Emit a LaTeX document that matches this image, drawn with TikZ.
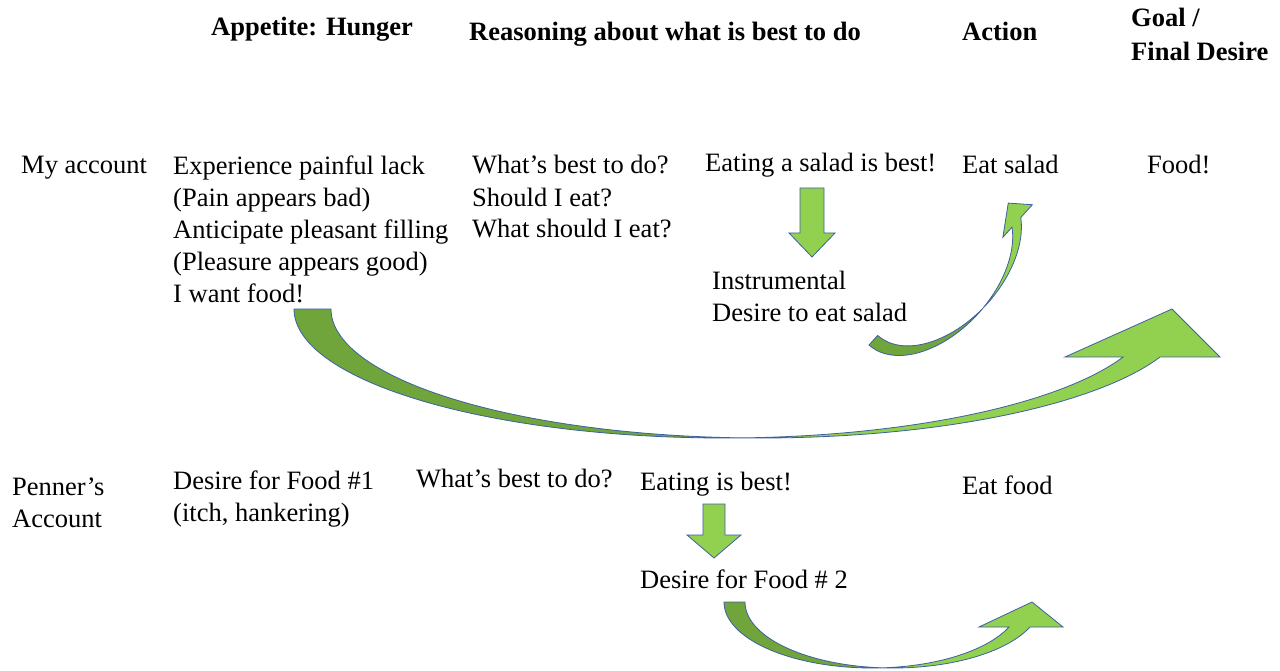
\documentclass[tikz,border=0pt]{standalone}
\usepackage{fontspec}
\setmainfont{Liberation Serif}
\definecolor{leafback}{RGB}{112,165,60}
\definecolor{leaffront}{RGB}{146,208,80}
\definecolor{rimblue}{RGB}{62,96,160}

% Twisted curved arrow, drawn in a local frame whose v axis points "down".
% #1 rx, #2 ry, #3 band width, #4 v of head base, #5 left head corner u,
% #6 right head corner u, #7 tip u, #8 tip v
\newcommand{\ribbonarrow}[8]{%
  \pgfmathsetmacro{\ribTc}{acos(#3/(2*#1))}%
  \pgfmathsetmacro{\ribTcB}{180-\ribTc}%
  \pgfmathsetmacro{\ribTh}{asin(#4/#2)}%
  \filldraw[ribbonback]
    plot[domain=180:\ribTc,samples=90] ({#1+#1*cos(\x)},{#2*sin(\x)})
    -- plot[domain=\ribTcB:180,samples=90] ({#1+#3+#1*cos(\x)},{#2*sin(\x)})
    -- cycle;
  \filldraw[ribbonfront]
    plot[domain=\ribTcB:\ribTh,samples=90] ({#1+#3+#1*cos(\x)},{#2*sin(\x)})
    -- (#6,#4) -- (#7,#8) -- (#5,#4)
    -- plot[domain=\ribTh:\ribTc,samples=90] ({#1+#1*cos(\x)},{#2*sin(\x)})
    -- cycle;
}

% multi-line texts are placed by the baseline of their last line
\tikzset{
  ribbonback/.style={fill=leafback, draw=rimblue, line width=0.8pt},
  ribbonfront/.style={fill=leaffront, draw=rimblue, line width=0.8pt},
  downarrow/.style={fill=leaffront, draw=rimblue, line width=0.8pt},
  txt/.style={anchor=base west, inner sep=0pt, align=left,
    font=\fontsize{26.5}{32}\selectfont},
  head/.style={txt, font=\fontsize{26.5}{34}\selectfont\bfseries},
}

\begin{document}
\begin{tikzpicture}[x=1pt,y=-1pt]
\fill[white] (0,0) rectangle (1280,671);
\path[use as bounding box] (0,0) rectangle (1280,671);

% column headings
\node[head] (hApp) at (211,36) {Appetite: Hunger};
\node[head] (hReas) at (469,41) {Reasoning about what is best to do};
\node[head] (hAct) at (962,41) {Action};
\node[head] (hGoal) at (1131,61) {Goal /\\Final Desire};

% first account
\node[txt] (myAcc) at (21,174) {My account};
\node[txt] (hunger) at (173,302) {Experience painful lack\\(Pain appears bad)\\Anticipate pleasant filling\\(Pleasure appears good)\\I want food!};
\node[txt] (ask) at (472,238) {What’s best to do?\\Should I eat?\\What should I eat?};
\node[txt] (salad) at (705,172) {Eating a salad is best!};
\node[txt] (instr) at (712,321) {Instrumental\\Desire to eat salad};
\node[txt] (eatSalad) at (962,174) {Eat salad};
\node[txt] (food) at (1147,174) {Food!};

% second account
\node[txt] (penner) at (12,527) {Penner’s\\Account};
\node[txt] (desire1) at (173,521) {Desire for Food \#1\\(itch, hankering)};
\node[txt] (ask2) at (416,487) {What’s best to do?};
\node[txt] (eatBest) at (640,490) {Eating is best!};
\node[txt] (desire2) at (640,588) {Desire for Food \# 2};
\node[txt] (eatFood) at (962,494) {Eat food};

% straight block arrows
\filldraw[downarrow] (800,188) -- (824,188) -- (824,233) -- (835,233)
  -- (812,257) -- (789,233) -- (800,233) -- cycle;
\filldraw[downarrow] (703,504) -- (725,504) -- (725,535) -- (741,535)
  -- (714,558) -- (687,535) -- (703,535) -- cycle;

% long arrow: hunger to final desire
\begin{scope}[shift={(294,309)}, x={(1pt,0pt)}, y={(0pt,-1pt)}]
  \ribbonarrow{430}{129}{37}{48}{771}{926}{878}{0}
\end{scope}

% instrumental desire to eating salad
\begin{scope}[shift={(869,345)}, x={(0.67pt,0.74pt)}, y={(0.74pt,-0.67pt)}]
  \ribbonarrow{97}{60}{13}{27}{170}{214}{199}{8}
\end{scope}

% second desire to eating food
\begin{scope}[shift={(724,602)}, x={(1pt,0pt)}, y={(0pt,-1pt)}]
  \ribbonarrow{148}{66}{21}{25}{255}{339}{308}{0}
\end{scope}
\end{tikzpicture}
\end{document}
